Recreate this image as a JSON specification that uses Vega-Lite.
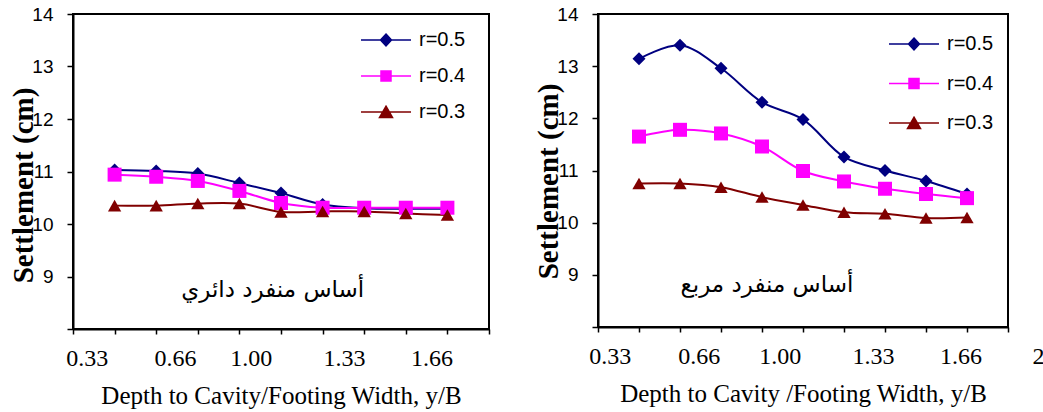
{
  "$schema": "https://vega.github.io/schema/vega-lite/v6.json",
  "background": "white",
  "padding": {"left": 8, "top": 4, "right": 0, "bottom": 0},
  "spacing": 42,
  "config": {
    "view": {"stroke": "black", "strokeWidth": 2},
    "axis": {"grid": false, "domainColor": "black", "domainWidth": 2, "tickColor": "black", "tickWidth": 1.5, "labelColor": "black", "titleColor": "black"},
    "legend": {"orient": "none", "title": null, "padding": 0, "labelFont": "Liberation Sans", "labelFontSize": 20, "labelColor": "black", "labelOffset": 23, "symbolSize": 100, "symbolOpacity": 1, "symbolStrokeWidth": 1.5}
  },
  "resolve": {"scale": {"color": "independent", "stroke": "independent", "shape": "independent"}, "legend": {"color": "independent", "stroke": "independent", "shape": "independent"}},
  "hconcat": [
    {
      "width": 416,
      "height": 315,
      "data": {"values": [
        {"x": 0.2, "s": "r=0.5", "y": 11.03}, {"x": 0.4, "s": "r=0.5", "y": 11.01}, {"x": 0.6, "s": "r=0.5", "y": 10.96},
        {"x": 0.8, "s": "r=0.5", "y": 10.78}, {"x": 1.0, "s": "r=0.5", "y": 10.59}, {"x": 1.2, "s": "r=0.5", "y": 10.37},
        {"x": 1.4, "s": "r=0.5", "y": 10.3}, {"x": 1.6, "s": "r=0.5", "y": 10.29}, {"x": 1.8, "s": "r=0.5", "y": 10.29},
        {"x": 0.2, "s": "r=0.4", "y": 10.94}, {"x": 0.4, "s": "r=0.4", "y": 10.9}, {"x": 0.6, "s": "r=0.4", "y": 10.82},
        {"x": 0.8, "s": "r=0.4", "y": 10.63}, {"x": 1.0, "s": "r=0.4", "y": 10.4}, {"x": 1.2, "s": "r=0.4", "y": 10.31},
        {"x": 1.4, "s": "r=0.4", "y": 10.31}, {"x": 1.6, "s": "r=0.4", "y": 10.31}, {"x": 1.8, "s": "r=0.4", "y": 10.31},
        {"x": 0.2, "s": "r=0.3", "y": 10.35}, {"x": 0.4, "s": "r=0.3", "y": 10.35}, {"x": 0.6, "s": "r=0.3", "y": 10.39},
        {"x": 0.8, "s": "r=0.3", "y": 10.39}, {"x": 1.0, "s": "r=0.3", "y": 10.23}, {"x": 1.2, "s": "r=0.3", "y": 10.24},
        {"x": 1.4, "s": "r=0.3", "y": 10.24}, {"x": 1.6, "s": "r=0.3", "y": 10.2}, {"x": 1.8, "s": "r=0.3", "y": 10.17}
      ]},
      "encoding": {
        "x": {"field": "x", "type": "quantitative", "scale": {"domain": [0, 2], "nice": false, "zero": false},
          "axis": {
            "values": [0, 0.2, 0.4, 0.6, 0.8, 1, 1.2, 1.4, 1.6, 1.8, 2, 0.066, 0.49, 0.854, 1.303, 1.724],
            "labelExpr": "datum.value==0.066?'0.33':datum.value==0.49?'0.66':datum.value==0.854?'1.00':datum.value==1.303?'1.33':datum.value==1.724?'1.66':''",
            "tickOpacity": {"condition": {"test": "indexof([0.066,0.49,0.854,1.303,1.724], datum.value) >= 0", "value": 0}, "value": 1},
            "tickSize": 5, "labelPadding": 12, "labelFont": "Liberation Serif", "labelFontSize": 24,
            "labelOverlap": false, "labelFlush": false, "labelBound": false,
            "title": "Depth to Cavity/Footing Width, y/B", "titleFont": "Liberation Serif", "titleFontSize": 25, "titleFontWeight": "normal", "titlePadding": 13
          }},
        "y": {"field": "y", "type": "quantitative", "scale": {"domain": [8, 14], "nice": false, "zero": false},
          "axis": {
            "values": [8, 9, 10, 11, 12, 13, 14], "labelExpr": "datum.value==8 ? '' : datum.label",
            "tickSize": 6, "labelPadding": 14, "labelFont": "Liberation Sans", "labelFontSize": 19,
            "title": "Settlement (cm)", "titleFont": "Liberation Serif", "titleFontSize": 29, "titleFontWeight": "bold", "titlePadding": -7, "titleY": 171
          }}
      },
      "layer": [
        {
          "mark": {"type": "point", "filled": true, "opacity": 0, "strokeWidth": 1.5},
          "encoding": {
            "color": {"field": "s", "type": "nominal", "scale": {"domain": ["r=0.5", "r=0.4", "r=0.3"], "range": ["#000080", "#FF00FF", "#800000"]},
              "legend": {"legendX": 303, "legendY": 16, "rowPadding": 16}},
            "stroke": {"field": "s", "type": "nominal", "scale": {"domain": ["r=0.5", "r=0.4", "r=0.3"], "range": ["#000080", "#FF00FF", "#800000"]},
              "legend": {"legendX": 303, "legendY": 16, "rowPadding": 16}},
            "shape": {"field": "s", "type": "nominal", "scale": {"domain": ["r=0.5", "r=0.4", "r=0.3"], "range": ["M-5,0L5,0M0,-1.2L1.1,0L0,1.2L-1.1,0Z", "M-5,0L5,0M-1,-1L1,-1L1,1L-1,1Z", "M-5,0L5,0M0,-1.15L1.3,1.1L-1.3,1.1Z"]},
              "legend": {"legendX": 303, "legendY": 16, "rowPadding": 16}}
          }
        },
        {"transform": [{"filter": "datum.s==='r=0.5'"}], "mark": {"type": "line", "interpolate": "catmull-rom", "strokeWidth": 2, "color": "#000080"}, "encoding": {}},
        {"transform": [{"filter": "datum.s==='r=0.4'"}], "mark": {"type": "line", "interpolate": "catmull-rom", "strokeWidth": 2, "color": "#FF00FF"}, "encoding": {}},
        {"transform": [{"filter": "datum.s==='r=0.3'"}], "mark": {"type": "line", "interpolate": "catmull-rom", "strokeWidth": 2, "color": "#800000"}, "encoding": {}},
        {"transform": [{"filter": "datum.s==='r=0.5'"}], "mark": {"type": "point", "filled": true, "opacity": 1, "shape": "diamond", "size": 169, "color": "#000080"}, "encoding": {}},
        {"transform": [{"filter": "datum.s==='r=0.4'"}], "mark": {"type": "point", "filled": true, "opacity": 1, "shape": "square", "size": 196, "color": "#FF00FF"}, "encoding": {}},
        {"transform": [{"filter": "datum.s==='r=0.3'"}], "mark": {"type": "point", "filled": true, "opacity": 1, "shape": "triangle-up", "size": 177, "color": "#800000"}, "encoding": {}},
        {
          "data": {"values": [{"x": 0.96, "y": 8.74, "t": "أساس منفرد دائري"}]},
          "mark": {"type": "text", "font": "DejaVu Sans", "fontSize": 23, "color": "black"},
          "encoding": {"text": {"field": "t", "type": "nominal"}}
        }
      ]
    },
    {
      "width": 410,
      "height": 313,
      "data": {"values": [
        {"x": 0.2, "s": "r=0.5", "y": 13.14}, {"x": 0.4, "s": "r=0.5", "y": 13.4}, {"x": 0.6, "s": "r=0.5", "y": 12.96},
        {"x": 0.8, "s": "r=0.5", "y": 12.31}, {"x": 1.0, "s": "r=0.5", "y": 11.98}, {"x": 1.2, "s": "r=0.5", "y": 11.26},
        {"x": 1.4, "s": "r=0.5", "y": 11.0}, {"x": 1.6, "s": "r=0.5", "y": 10.8}, {"x": 1.8, "s": "r=0.5", "y": 10.55},
        {"x": 0.2, "s": "r=0.4", "y": 11.65}, {"x": 0.4, "s": "r=0.4", "y": 11.78}, {"x": 0.6, "s": "r=0.4", "y": 11.71},
        {"x": 0.8, "s": "r=0.4", "y": 11.46}, {"x": 1.0, "s": "r=0.4", "y": 10.99}, {"x": 1.2, "s": "r=0.4", "y": 10.79},
        {"x": 1.4, "s": "r=0.4", "y": 10.65}, {"x": 1.6, "s": "r=0.4", "y": 10.55}, {"x": 1.8, "s": "r=0.4", "y": 10.47},
        {"x": 0.2, "s": "r=0.3", "y": 10.75}, {"x": 0.4, "s": "r=0.3", "y": 10.75}, {"x": 0.6, "s": "r=0.3", "y": 10.68},
        {"x": 0.8, "s": "r=0.3", "y": 10.49}, {"x": 1.0, "s": "r=0.3", "y": 10.34}, {"x": 1.2, "s": "r=0.3", "y": 10.2},
        {"x": 1.4, "s": "r=0.3", "y": 10.17}, {"x": 1.6, "s": "r=0.3", "y": 10.09}, {"x": 1.8, "s": "r=0.3", "y": 10.1}
      ]},
      "encoding": {
        "x": {"field": "x", "type": "quantitative", "scale": {"domain": [0, 2], "nice": false, "zero": false},
          "axis": {
            "values": [0, 0.2, 0.4, 0.6, 0.8, 1, 1.2, 1.4, 1.6, 1.8, 2, 0.057, 0.492, 0.886, 1.341, 1.768],
            "labelExpr": "datum.value==0.057?'0.33':datum.value==0.492?'0.66':datum.value==0.886?'1.00':datum.value==1.341?'1.33':datum.value==1.768?'1.66':datum.value==2?'2':''",
            "tickOpacity": {"condition": {"test": "indexof([0.057,0.492,0.886,1.341,1.768], datum.value) >= 0", "value": 0}, "value": 1},
            "labelOffset": {"condition": {"test": "datum.value==2", "value": 30}, "value": 0},
            "tickSize": 5, "labelPadding": 12, "labelFont": "Liberation Serif", "labelFontSize": 24,
            "labelOverlap": false, "labelFlush": false, "labelBound": false,
            "title": "Depth to Cavity /Footing Width, y/B", "titleFont": "Liberation Serif", "titleFontSize": 25, "titleFontWeight": "normal", "titlePadding": 13
          }},
        "y": {"field": "y", "type": "quantitative", "scale": {"domain": [8, 14], "nice": false, "zero": false},
          "axis": {
            "values": [8, 9, 10, 11, 12, 13, 14], "labelExpr": "datum.value==8 ? '' : datum.label",
            "tickSize": 6, "labelPadding": 14, "labelFont": "Liberation Sans", "labelFontSize": 19,
            "title": "Settlement (cm)", "titleFont": "Liberation Serif", "titleFontSize": 29, "titleFontWeight": "bold", "titlePadding": -7, "titleY": 167
          }}
      },
      "layer": [
        {
          "mark": {"type": "point", "filled": true, "opacity": 0, "strokeWidth": 1.5},
          "encoding": {
            "color": {"field": "s", "type": "nominal", "scale": {"domain": ["r=0.5", "r=0.4", "r=0.3"], "range": ["#000080", "#FF00FF", "#800000"]},
              "legend": {"legendX": 306, "legendY": 20, "rowPadding": 19.5}},
            "stroke": {"field": "s", "type": "nominal", "scale": {"domain": ["r=0.5", "r=0.4", "r=0.3"], "range": ["#000080", "#FF00FF", "#800000"]},
              "legend": {"legendX": 306, "legendY": 20, "rowPadding": 19.5}},
            "shape": {"field": "s", "type": "nominal", "scale": {"domain": ["r=0.5", "r=0.4", "r=0.3"], "range": ["M-5,0L5,0M0,-1.2L1.1,0L0,1.2L-1.1,0Z", "M-5,0L5,0M-1,-1L1,-1L1,1L-1,1Z", "M-5,0L5,0M0,-1.15L1.3,1.1L-1.3,1.1Z"]},
              "legend": {"legendX": 306, "legendY": 20, "rowPadding": 19.5}}
          }
        },
        {"transform": [{"filter": "datum.s==='r=0.5'"}], "mark": {"type": "line", "interpolate": "catmull-rom", "strokeWidth": 2, "color": "#000080"}, "encoding": {}},
        {"transform": [{"filter": "datum.s==='r=0.4'"}], "mark": {"type": "line", "interpolate": "catmull-rom", "strokeWidth": 2, "color": "#FF00FF"}, "encoding": {}},
        {"transform": [{"filter": "datum.s==='r=0.3'"}], "mark": {"type": "line", "interpolate": "catmull-rom", "strokeWidth": 2, "color": "#800000"}, "encoding": {}},
        {"transform": [{"filter": "datum.s==='r=0.5'"}], "mark": {"type": "point", "filled": true, "opacity": 1, "shape": "diamond", "size": 169, "color": "#000080"}, "encoding": {}},
        {"transform": [{"filter": "datum.s==='r=0.4'"}], "mark": {"type": "point", "filled": true, "opacity": 1, "shape": "square", "size": 196, "color": "#FF00FF"}, "encoding": {}},
        {"transform": [{"filter": "datum.s==='r=0.3'"}], "mark": {"type": "point", "filled": true, "opacity": 1, "shape": "triangle-up", "size": 177, "color": "#800000"}, "encoding": {}},
        {
          "data": {"values": [{"x": 0.824, "y": 8.81, "t": "أساس منفرد مربع"}]},
          "mark": {"type": "text", "font": "DejaVu Sans", "fontSize": 23, "color": "black"},
          "encoding": {"text": {"field": "t", "type": "nominal"}}
        }
      ]
    }
  ]
}
